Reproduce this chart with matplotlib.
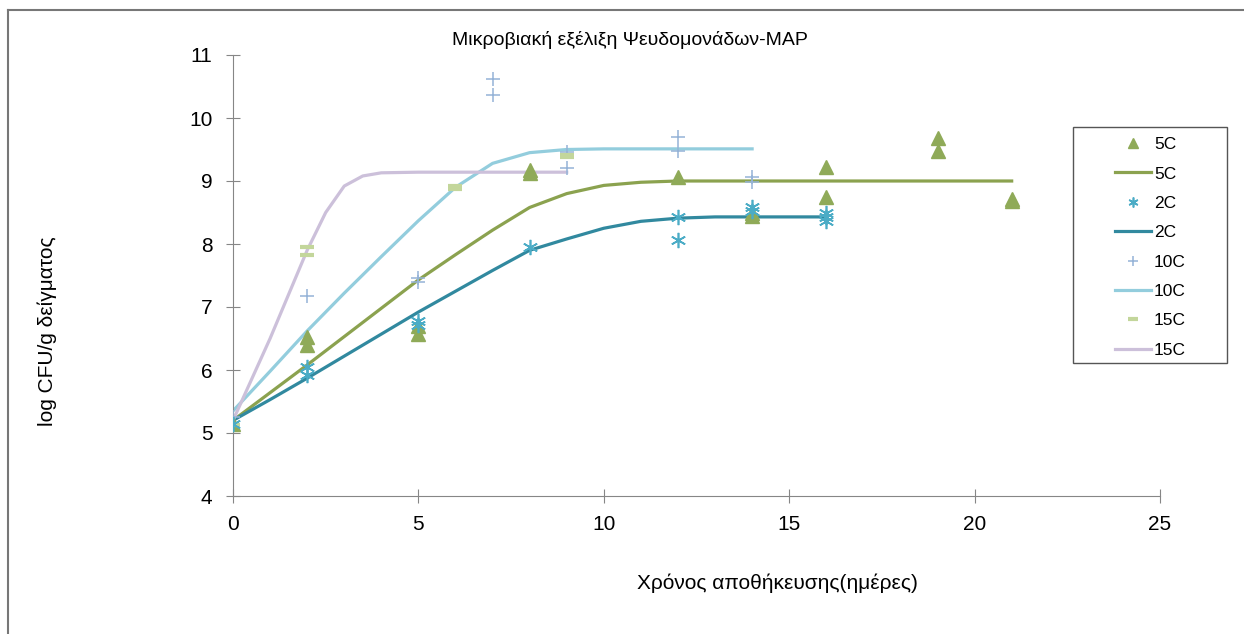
import matplotlib.pyplot as plt
from matplotlib.patches import Rectangle
from matplotlib.lines import Line2D

plt.rcParams['font.family'] = ['Liberation Sans', 'DejaVu Sans']

# measured counts (log CFU/g) per storage day
days_5c = [0, 2, 2, 5, 5, 8, 8, 12, 14, 14, 16, 16, 19, 19, 21, 21]
log_5c = [5.15, 6.53, 6.40, 6.70, 6.57, 9.18, 9.13, 9.06, 8.50, 8.45, 9.23, 8.75, 9.68, 9.47, 8.72, 8.68]

days_2c = [0, 2, 2, 5, 5, 8, 12, 12, 14, 14, 16, 16, 16]
log_2c = [5.15, 6.05, 5.92, 6.78, 6.72, 7.95, 8.43, 8.07, 8.59, 8.53, 8.50, 8.43, 8.37]

days_10c = [0, 2, 5, 5, 7, 7, 9, 9, 12, 12, 14, 14]
log_10c = [5.25, 7.17, 7.46, 7.40, 10.62, 10.36, 9.46, 9.20, 9.70, 9.47, 9.06, 8.98]

days_15c = [0, 2, 2, 6, 6, 9, 9]
log_15c = [5.12, 7.95, 7.83, 8.92, 8.88, 9.42, 9.38]

# fitted growth curves
fit_t_5c = [0, 1, 2, 3, 4, 5, 6, 7, 8, 9, 10, 11, 12, 14, 16, 18, 21]
fit_5c = [5.2, 5.64, 6.08, 6.53, 6.98, 7.43, 7.83, 8.22, 8.58, 8.80, 8.93, 8.98, 9.0, 9.0, 9.0, 9.0, 9.0]

fit_t_2c = [0, 1, 2, 3, 4, 5, 6, 7, 8, 9, 10, 11, 12, 13, 14, 16]
fit_2c = [5.2, 5.53, 5.87, 6.22, 6.57, 6.92, 7.25, 7.58, 7.9, 8.08, 8.25, 8.36, 8.41, 8.43, 8.43, 8.43]

fit_t_10c = [0, 1, 2, 3, 4, 5, 6, 7, 8, 9, 10, 12, 14]
fit_10c = [5.35, 5.98, 6.62, 7.22, 7.80, 8.37, 8.90, 9.28, 9.45, 9.50, 9.51, 9.51, 9.51]

fit_t_15c = [0, 0.5, 1, 1.5, 2, 2.5, 3, 3.5, 4, 5, 7, 9]
fit_15c = [5.2, 5.85, 6.5, 7.2, 7.9, 8.5, 8.92, 9.08, 9.13, 9.14, 9.14, 9.14]

W, H = 1244, 634
fig = plt.figure(figsize=(W / 100, H / 100), dpi=100)
ax = fig.add_axes([233 / W, 1 - 496 / H, (1160 - 233) / W, (496 - 55) / H])

ax.plot(days_5c, log_5c, ls='none', marker='^', ms=10, color='#8FAA58', label='5C', zorder=3)
ax.plot(fit_t_5c, fit_5c, color='#8BA24F', lw=2.3, label='5C', zorder=2)
ax.plot(days_2c, log_2c, ls='none', marker=(6, 2, 0), ms=11, mew=1.2, color='#4BACC6', label='2C', zorder=4)
ax.plot(fit_t_2c, fit_2c, color='#31899F', lw=2.3, label='2C', zorder=2)
ax.plot(days_10c, log_10c, ls='none', marker='+', ms=10, mew=1.1, color='#95B3D7', label='10C', zorder=3)
ax.plot(fit_t_10c, fit_10c, color='#93CDDD', lw=2.3, label='10C', zorder=2)
ax.plot(days_15c, log_15c, ls='none', marker='_', ms=10, mew=3, color='#C3D69B', label='15C', zorder=3)
ax.plot(fit_t_15c, fit_15c, color='#CCC0DA', lw=2.3, label='15C', zorder=2)

ax.set_xlim(0, 25)
ax.set_ylim(4, 11)
ax.set_xticks(range(0, 26, 5))
ax.set_yticks(range(4, 12))
for side in ['top', 'right']:
    ax.spines[side].set_visible(False)
for side in ['left', 'bottom']:
    ax.spines[side].set_color('#868686')
ax.tick_params(direction='inout', length=9.5, color='#868686', labelsize=15)
ax.tick_params(axis='x', pad=9)
ax.tick_params(axis='y', pad=10)

fig.text(630 / W, 1 - 40 / H, 'Μικροβιακή εξέλιξη Ψευδομονάδων-MAP', ha='center', va='center', fontsize=14)
fig.text(777 / W, 1 - 583 / H, 'Χρόνος αποθήκευσης(ημέρες)', ha='center', va='center', fontsize=15)
fig.text(47 / W, 1 - 331 / H, 'log CFU/g δείγματος', ha='center', va='center', rotation=90, fontsize=15)

# legend: frame drawn separately so its width is fixed
leg = ax.legend(loc='upper left', bbox_to_anchor=(1115 / W, 1 - 137 / H), bbox_transform=fig.transFigure,
                borderaxespad=0, borderpad=0, fontsize=12.5, frameon=False,
                labelspacing=0.82, handlelength=2.05, handletextpad=0.2, markerscale=0.65)
fig.patches.append(Rectangle((1073 / W, 1 - 363 / H), (1227 - 1073) / W, (363 - 127) / H,
                             transform=fig.transFigure, fill=False, edgecolor='#555555', lw=1.0))

# page frame on the top and left edges
fig.lines.append(Line2D([8 / W, 1], [1 - 10 / H, 1 - 10 / H], transform=fig.transFigure, color='#777777', lw=1.5))
fig.lines.append(Line2D([8 / W, 8 / W], [0, 1 - 10 / H], transform=fig.transFigure, color='#777777', lw=1.5))

fig.savefig('out.png', dpi=100)
